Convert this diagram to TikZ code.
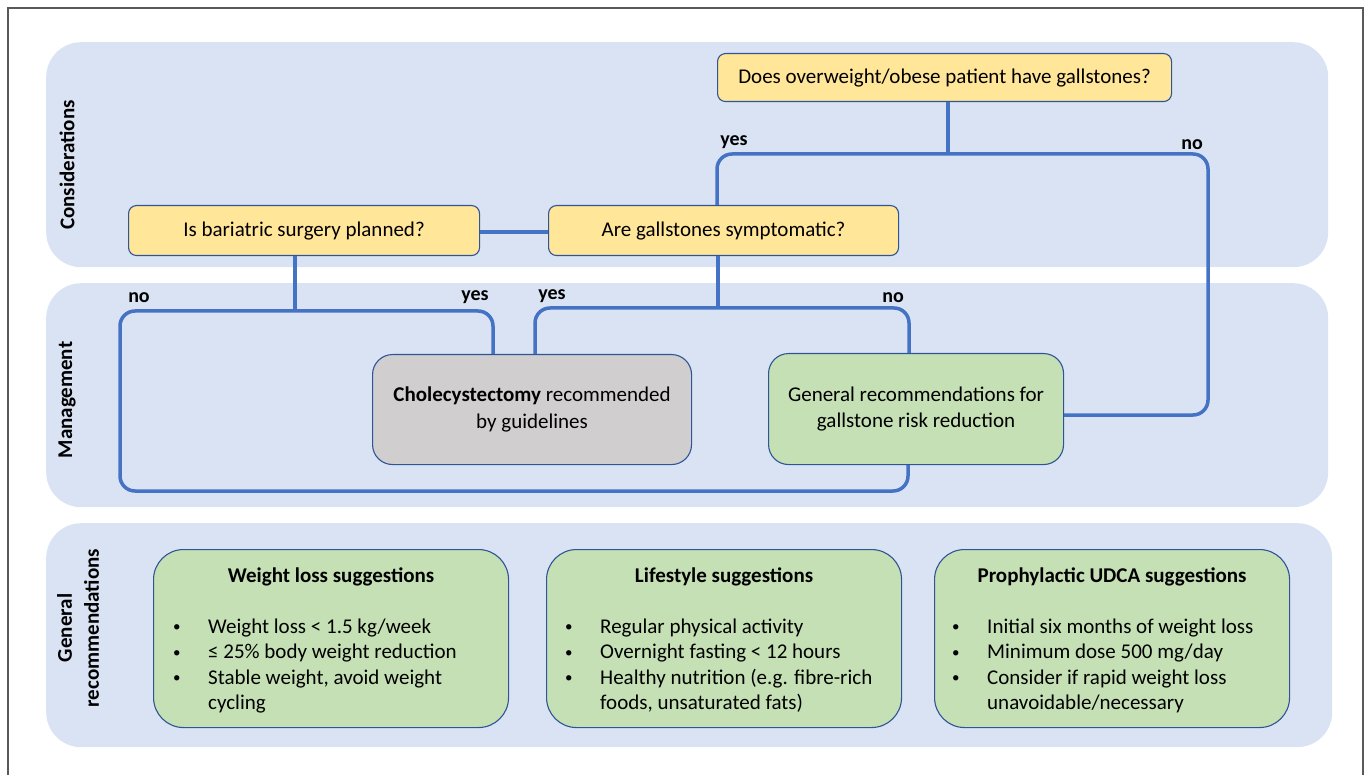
\documentclass[tikz,border=0pt]{standalone}
\usepackage{fontspec}
\setmainfont{Carlito}
\definecolor{bandblue}{HTML}{DAE3F3}
\definecolor{qyellow}{HTML}{FFE699}
\definecolor{cgray}{HTML}{D0CECE}
\definecolor{rgreen}{HTML}{C5E0B4}
\definecolor{flowblue}{HTML}{4472C4}
\definecolor{edgeblue}{HTML}{2F5597}
\definecolor{framegray}{HTML}{595959}
\newcommand{\smbul}{\raisebox{1.5pt}{\fontsize{15}{15}\selectfont •}}
\begin{document}
\begin{tikzpicture}[x=1pt,y=-1pt,
  every node/.style={font=\fontsize{21}{25.5}\selectfont, inner sep=0pt},
  band/.style={fill=bandblue, rounded corners=35pt, minimum width=#1, anchor=north west},
  qbox/.style={draw=edgeblue, line width=1.1pt, fill=qyellow, rounded corners=8pt, anchor=north west},
  mbox/.style={draw=edgeblue, line width=1.1pt, rounded corners=20pt, anchor=north west, align=center},
  gbox/.style={draw=edgeblue, line width=1.1pt, fill=rgreen, rounded corners=30pt, anchor=north west, minimum width=355pt, minimum height=178pt},
  flow/.style={draw=flowblue, line width=3.5pt, rounded corners=15pt},
  tee/.style={draw=flowblue, line width=3.5pt},
  lbl/.style={font=\fontsize{20}{24}\selectfont\bfseries},
  side/.style={font=\fontsize{21}{27}\selectfont\bfseries, rotate=90, align=center},
  gtitle/.style={font=\fontsize{21}{25.5}\selectfont\bfseries},
  glist/.style={anchor=base west, align=left}
]
\useasboundingbox (0,0) rectangle (1370,775);
\draw[framegray, line width=1.3pt] (8,8) rectangle (1363,800);

% bands
\node[band=1282pt, minimum height=225pt] (bandC) at (46,42) {};
\node[band=1282pt, minimum height=224pt] (bandM) at (46,283) {};
\node[band=1286pt, minimum height=224pt] (bandG) at (46,523) {};

% side labels
\node[side] (sC) at (67,165) {Considerations};
\node[side] (sM) at (67,400) {Management};
\node[side] (sG) at (78,628) {General\\recommendations};

% question boxes
\node[qbox, minimum width=454pt, minimum height=48pt] (qtop) at (717,53) {Does overweight/obese patient have gallstones?};
\node[qbox, minimum width=351pt, minimum height=50pt] (qbar) at (128,205) {Is bariatric surgery planned?};
\node[qbox, minimum width=350pt, minimum height=50pt] (qsym) at (548,205) {Are gallstones symptomatic?};

% management boxes
\node[mbox, fill=cgray, minimum width=319pt, minimum height=110pt] (chol) at (372,354) {\textbf{Cholecystectomy} recommended\\[1pt]by guidelines};
\node[mbox, fill=rgreen, minimum width=295pt, minimum height=111pt] (gen) at (768,353) {General recommendations for\\[1pt]gallstone risk reduction};

% junction coordinates
\coordinate (jTop) at (948,154);
\coordinate (yesA) at (717,154);
\coordinate (noA) at (1208,154);
\coordinate (noB) at (1208,415);
\coordinate (jBar) at (295,311);
\coordinate (noL) at (120,311);
\coordinate (noLb) at (120,491);
\coordinate (genB) at (908,491);
\coordinate (yesL) at (493,311);
\coordinate (jSym) at (718,308);
\coordinate (yesS) at (535,308);
\coordinate (noS) at (909,308);

% connectors
\draw[tee] (qtop.south -| jTop) -- (jTop);
\draw[flow] (qsym.north -| yesA) -- (yesA) -- (noA) -- (noB) -- (gen.east |- noB);
\draw[tee] (qbar.east |- 0,232) -- (qsym.west |- 0,232);
\draw[tee] (qbar.south -| jBar) -- (jBar);
\draw[flow] (chol.north -| yesL) -- (yesL) -- (noL) -- (noLb) -- (genB) -- (gen.south -| genB);
\draw[tee] (qsym.south -| jSym) -- (jSym);
\draw[flow] (chol.north -| yesS) -- (yesS) -- (noS) -- (gen.north -| noS);

% branch labels
\node[lbl] (lyesA) at (734,142) {yes};
\node[lbl] (lnoA) at (1192,145) {no};
\node[lbl] (lnoL) at (139,298) {no};
\node[lbl] (lyesL) at (475,297) {yes};
\node[lbl] (lyesS) at (552,296) {yes};
\node[lbl] (lnoS) at (893,298) {no};

% general recommendation boxes
\node[gbox] (wl) at (153,549) {};
\node[gbox] (ls) at (546,549) {};
\node[gbox] (ud) at (934,549) {};

\coordinate (tY) at (0,577);
\node[gtitle] (wlt) at (wl.center |- tY) {Weight loss suggestions};
\node[gtitle] (lst) at (ls.center |- tY) {Lifestyle suggestions};
\node[gtitle] (udt) at (ud.center |- tY) {Prophylactic UDCA suggestions};

\node[glist] (wll) at (173,633) {\begin{tabular}[t]{@{}p{35pt}@{}l@{}}
\smbul& Weight loss < 1.5 kg/week\\
\smbul& ≤ 25\% body weight reduction\\
\smbul& Stable weight, avoid weight\\
 & cycling
\end{tabular}};
\node[glist] (lsl) at (565,633) {\begin{tabular}[t]{@{}p{35pt}@{}l@{}}
\smbul& Regular physical activity\\
\smbul& Overnight fasting < 12 hours\\
\smbul& Healthy nutrition (e.g. fibre-rich\\
 & foods, unsaturated fats)
\end{tabular}};
\node[glist] (udl) at (952,633) {\begin{tabular}[t]{@{}p{35pt}@{}l@{}}
\smbul& Initial six months of weight loss\\
\smbul& Minimum dose 500 mg/day\\
\smbul& Consider if rapid weight loss\\
 & unavoidable/necessary
\end{tabular}};
\end{tikzpicture}
\end{document}
